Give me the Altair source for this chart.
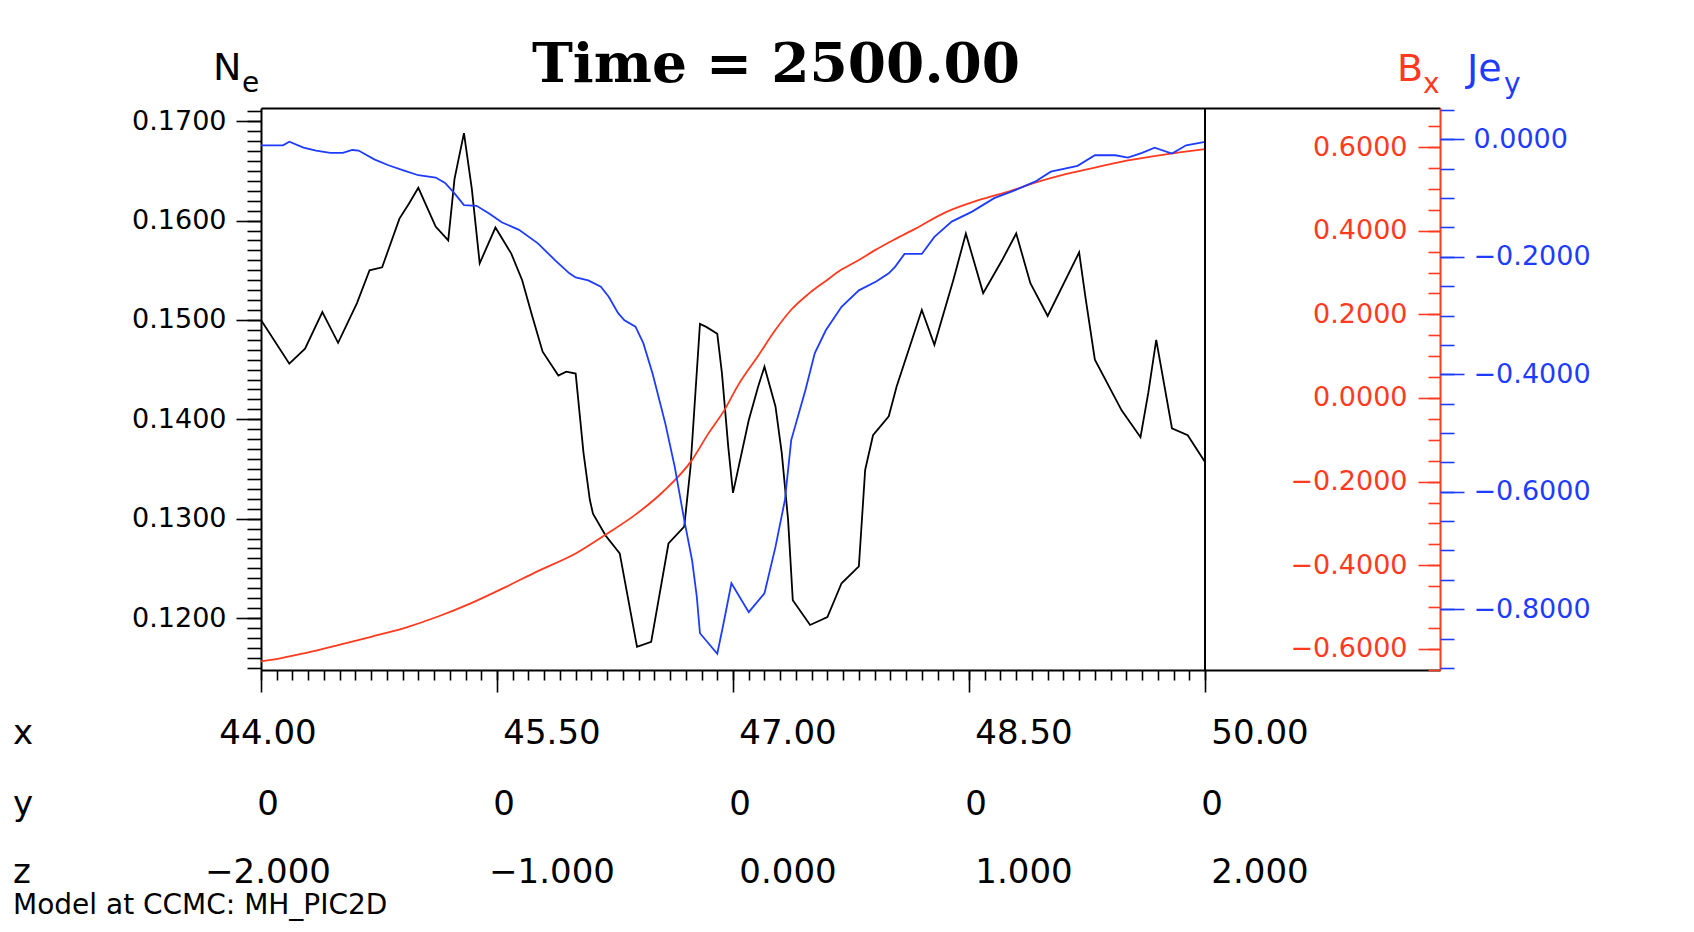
import altair as alt
import pandas as pd

# ---------------- data ----------------
ne_x = [44.00, 44.18, 44.28, 44.39, 44.49, 44.61, 44.69, 44.77, 44.88, 44.94,
        45.00, 45.11, 45.19, 45.23, 45.29, 45.34, 45.39, 45.49, 45.59, 45.66,
        45.72, 45.79, 45.89, 45.94, 46.00, 46.05, 46.09, 46.11, 46.19, 46.28,
        46.39, 46.48, 46.59, 46.69, 46.73, 46.79, 46.83, 46.90, 46.93, 46.97,
        47.00, 47.10, 47.16, 47.20, 47.27, 47.31, 47.35, 47.38, 47.49, 47.60,
        47.69, 47.80, 47.84, 47.89, 47.99, 48.04, 48.20, 48.28, 48.40, 48.48,
        48.59, 48.71, 48.80, 48.89, 49.00, 49.20, 49.24, 49.30, 49.47, 49.59,
        49.64, 49.69, 49.79, 49.89, 50.00]
ne_v = [0.1500, 0.1456, 0.1471, 0.1508, 0.1477, 0.1517, 0.1550, 0.1553, 0.1602, 0.1617,
        0.1633, 0.1594, 0.1580, 0.1642, 0.1688, 0.1632, 0.1557, 0.1593, 0.1567, 0.1540,
        0.1506, 0.1468, 0.1444, 0.1448, 0.1446, 0.1366, 0.1319, 0.1305, 0.1283, 0.1265,
        0.1171, 0.1176, 0.1275, 0.1292, 0.1352, 0.1496, 0.1493, 0.1486, 0.1446, 0.1372,
        0.1326, 0.1399, 0.1433, 0.1453, 0.1413, 0.1366, 0.1299, 0.1218, 0.1193, 0.1201,
        0.1235, 0.1252, 0.1349, 0.1384, 0.1403, 0.1433, 0.1510, 0.1475, 0.1540, 0.1587,
        0.1527, 0.1560, 0.1587, 0.1537, 0.1504, 0.1568, 0.1523, 0.1460, 0.1409, 0.1382,
        0.1427, 0.1480, 0.1391, 0.1384, 0.1357]

bx_x = [44.00, 44.13, 44.28, 44.49, 44.70, 44.92, 45.13, 45.34, 45.55, 45.76,
        46.00, 46.19, 46.38, 46.55, 46.74, 46.84, 46.95, 47.03, 47.16, 47.27,
        47.37, 47.48, 47.59, 47.69, 47.80, 47.90, 48.02, 48.16, 48.35, 48.56,
        48.77, 48.92, 49.09, 49.30, 49.51, 49.72, 50.00]
bx_v = [-0.630, -0.622, -0.610, -0.591, -0.571, -0.549, -0.522, -0.490, -0.453, -0.414,
        -0.372, -0.327, -0.279, -0.226, -0.148, -0.087, -0.026, 0.029, 0.101, 0.163,
        0.211, 0.249, 0.280, 0.307, 0.330, 0.353, 0.378, 0.405, 0.444, 0.473,
        0.496, 0.515, 0.533, 0.551, 0.568, 0.581, 0.595]

jey_x = [44.00, 44.14, 44.18, 44.27, 44.35, 44.44, 44.52, 44.58, 44.62, 44.72,
         44.81, 44.91, 45.00, 45.11, 45.17, 45.23, 45.29, 45.37, 45.45, 45.53,
         45.64, 45.76, 45.87, 45.96, 46.00, 46.08, 46.16, 46.21, 46.27, 46.31,
         46.38, 46.43, 46.49, 46.57, 46.63, 46.69, 46.74, 46.77, 46.79, 46.90,
         46.94, 46.99, 47.10, 47.20, 47.27, 47.33, 47.37, 47.46, 47.52, 47.59,
         47.69, 47.80, 47.91, 47.99, 48.03, 48.09, 48.20, 48.28, 48.39, 48.52,
         48.66, 48.77, 48.92, 49.02, 49.19, 49.30, 49.43, 49.51, 49.60, 49.68,
         49.79, 49.88, 50.00]
jey_v = [-0.010, -0.010, -0.004, -0.014, -0.019, -0.023, -0.023, -0.018, -0.019, -0.034,
         -0.044, -0.053, -0.061, -0.065, -0.074, -0.092, -0.112, -0.113, -0.126, -0.141,
         -0.154, -0.177, -0.206, -0.228, -0.235, -0.240, -0.251, -0.268, -0.296, -0.308,
         -0.319, -0.347, -0.400, -0.484, -0.558, -0.648, -0.717, -0.779, -0.841, -0.876,
         -0.824, -0.756, -0.805, -0.773, -0.694, -0.614, -0.512, -0.427, -0.364, -0.325,
         -0.285, -0.257, -0.242, -0.228, -0.217, -0.195, -0.195, -0.166, -0.140, -0.123,
         -0.100, -0.089, -0.072, -0.055, -0.045, -0.027, -0.027, -0.031, -0.023, -0.014,
         -0.024, -0.010, -0.004]

# tick labels
x_ticks = [44.0, 45.5, 47.0, 48.5, 50.0]
x_row = ["44.00", "45.50", "47.00", "48.50", "50.00"]
y_row = ["0", "0", "0", "0", "0"]
z_row = ["\u22122.000", "\u22121.000", "0.000", "1.000", "2.000"]
ne_major = [0.12, 0.13, 0.14, 0.15, 0.16, 0.17]
bx_major = [-0.6, -0.4, -0.2, 0.0, 0.2, 0.4, 0.6]
jey_major = [0.0, -0.2, -0.4, -0.6, -0.8]
x_minor = [round(44 + 0.1 * i, 1) for i in range(61)]
ne_minor = [round(0.115 + 0.001 * i, 3) for i in range(57)]
bx_minor = [round(-0.65 + 0.05 * i, 2) for i in range(27)]
jey_minor = [round(-0.90 + 0.05 * i, 2) for i in range(20)]

title_text = "Time = 2500.00"
footer_text = "Model at CCMC: MH_PIC2D"

# ---------------- layout ----------------
W, H = 1179, 562
RED = "#ff3a1e"
BLUE = "#1e3cff"
FONT = "DejaVu Sans"

ne_df = pd.DataFrame({"x": ne_x, "v": ne_v})
bx_df = pd.DataFrame({"x": bx_x, "v": bx_v})
jey_df = pd.DataFrame({"x": jey_x, "v": jey_v})

xs = alt.Scale(domain=[44.0, 51.4936], nice=False, zero=False)
ne_s = alt.Scale(domain=[0.11477, 0.17133], nice=False, zero=False)
bx_s = alt.Scale(domain=[-0.6505, 0.6935], nice=False, zero=False)
jey_s = alt.Scale(domain=[-0.9036, 0.0535], nice=False, zero=False)


def xe(axis=None):
    return alt.X("x:Q", scale=xs, axis=axis)


def yaxis(orient, values, size, color, labels=True, domain=False, offset=0, pad=10):
    kw = dict(orient=orient, values=values, tickSize=size, tickColor=color,
              tickWidth=1.6, grid=False, title=None, labels=labels, domain=domain,
              offset=offset)
    if labels:
        kw.update(format=".4f", labelColor=color, labelFont=FONT, labelFontSize=27,
                  labelPadding=pad, labelOverlap=False, labelFlush=False, labelBound=False)
    if domain:
        kw.update(domainColor=color, domainWidth=2)
    return alt.Axis(**kw)


layers = []
# Ne (left axis)
layers.append(alt.Chart(ne_df).mark_line(opacity=0).encode(
    x=xe(), y=alt.Y("v:Q", scale=ne_s, axis=yaxis("left", ne_minor, 14, "black", labels=False))))
layers.append(alt.Chart(ne_df).mark_line(color="black", strokeWidth=1.8).encode(
    x=xe(), y=alt.Y("v:Q", scale=ne_s, axis=yaxis("left", ne_major, 25, "black", domain=True))))
# Bx (red axis, drawn at the right edge, facing inward)
layers.append(alt.Chart(bx_df).mark_line(opacity=0).encode(
    x=xe(), y=alt.Y("v:Q", scale=bx_s, axis=yaxis("left", bx_minor, 12, RED, labels=False, offset=-W))))
layers.append(alt.Chart(bx_df).mark_line(color=RED, strokeWidth=1.8, interpolate="monotone").encode(
    x=xe(), y=alt.Y("v:Q", scale=bx_s, axis=yaxis("left", bx_major, 22, RED, domain=True, offset=-W, pad=11))))
# Jey (blue axis, right)
layers.append(alt.Chart(jey_df).mark_line(opacity=0).encode(
    x=xe(), y=alt.Y("v:Q", scale=jey_s, axis=yaxis("right", jey_minor, 14, BLUE, labels=False))))
layers.append(alt.Chart(jey_df).mark_line(color=BLUE, strokeWidth=1.8).encode(
    x=xe(), y=alt.Y("v:Q", scale=jey_s, axis=yaxis("right", jey_major, 24, BLUE, pad=9))))

# x axes: minor ticks, major ticks + bottom frame, top frame
layers.append(alt.Chart(ne_df).mark_line(opacity=0).encode(
    x=xe(alt.Axis(orient="bottom", values=x_minor, tickSize=10, tickColor="black", tickWidth=1.6,
                  labels=False, domain=False, grid=False, title=None)),
    y=alt.Y("v:Q", scale=ne_s, axis=None)))
layers.append(alt.Chart(ne_df).mark_line(opacity=0).encode(
    x=xe(alt.Axis(orient="bottom", values=x_ticks, tickSize=22, tickColor="black", tickWidth=1.6,
                  labels=False, domain=True, domainColor="black", domainWidth=2, grid=False, title=None)),
    y=alt.Y("v:Q", scale=ne_s, axis=None)))
layers.append(alt.Chart(ne_df).mark_line(opacity=0).encode(
    x=xe(alt.Axis(orient="top", values=[44.0], ticks=False, labels=False, domain=True,
                  domainColor="black", domainWidth=2, grid=False, title=None)),
    y=alt.Y("v:Q", scale=ne_s, axis=None)))

# vertical line at the end of the data range
layers.append(alt.Chart(pd.DataFrame({"x": [x_ticks[-1]]})).mark_rule(color="black", strokeWidth=2).encode(
    x=xe()))


# tick-label rows under the x axis
def row(labels, y, size=34):
    out = []
    first = pd.DataFrame({"x": x_ticks[:1], "t": labels[:1]})
    rest = pd.DataFrame({"x": x_ticks[1:], "t": labels[1:]})
    dx_rest = 7 if labels is y_row else 55
    out.append(alt.Chart(first).mark_text(dx=7, align="center", baseline="middle", font=FONT,
                                           fontSize=size, color="black").encode(
        x=xe(), y=alt.value(y), text="t:N"))
    out.append(alt.Chart(rest).mark_text(dx=dx_rest, align="center", baseline="middle", font=FONT,
                                          fontSize=size, color="black").encode(
        x=xe(), y=alt.value(y), text="t:N"))
    return out


layers += row(x_row, 626)
layers += row(y_row, 697)
layers += row(z_row, 765)


def label(text, x, y, size, color="black", font=FONT, weight="normal", align="left", baseline="alphabetic"):
    return alt.Chart(pd.DataFrame({"t": [text]})).mark_text(
        align=align, baseline=baseline, font=font, fontSize=size, fontWeight=weight, color=color
    ).encode(x=alt.value(x), y=alt.value(y), text="t:N")


for t, y in (("x", 626), ("y", 697), ("z", 765)):
    layers.append(label(t, -248, y, 34, baseline="middle"))
layers.append(label(footer_text, -248, 806, 28))
layers.append(label(title_text, 515, -26, 55, font="DejaVu Serif", weight="bold", align="center"))
layers.append(label("N", -48, -28, 38))
layers.append(label("e", -19, -16, 28))
layers.append(label("B", 1136, -27, 38, color=RED))
layers.append(label("x", 1162, -15, 28, color=RED))
layers.append(label("Je", 1206, -27, 38, color=BLUE))
layers.append(label("y", 1243, -15, 28, color=BLUE))

chart = alt.layer(*layers).resolve_scale(
    y="independent"
).resolve_axis(
    x="independent", y="independent"
).properties(
    width=W, height=H,
    autosize=alt.AutoSizeParams(type="none"),
    padding={"left": 253, "top": 100, "right": 230, "bottom": 254},
    background="white",
).configure_view(stroke="transparent")

chart.save("out.html", embed_options={"renderer": "svg", "actions": False})
